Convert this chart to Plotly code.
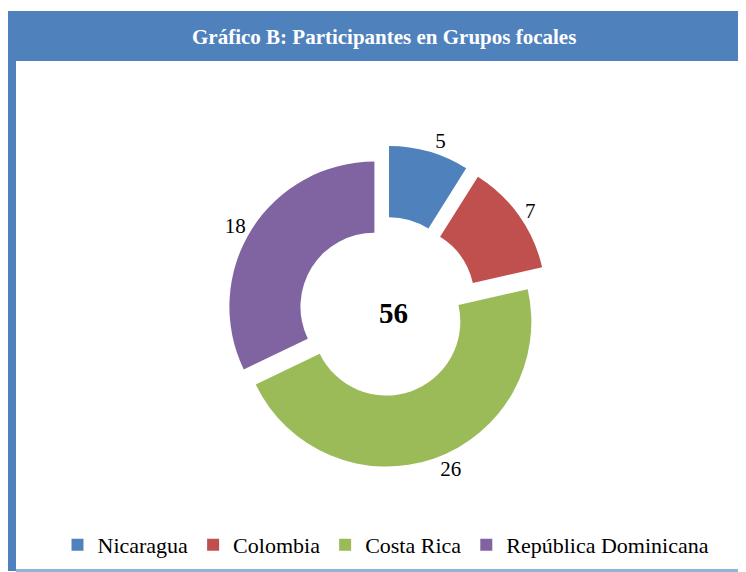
import plotly.graph_objects as go

# Data
countries = ["Nicaragua", "Colombia", "Costa Rica", "República Dominicana"]
participants = [5, 7, 26, 18]
colors = ["#4F81BD", "#C0504D", "#9BBB59", "#8064A2"]
pulls = [0.15, 0.15, 0.07, 0.07]
title_text = "Gráfico B: Participantes en Grupos focales"

# page has an 8px body margin; figure sized to fill the rest of the window
OFF = 8
W, H = 746 - OFF, 572 - OFF
FONT = "Liberation Serif, Times New Roman, serif"


def px(x):  # page x -> paper fraction
    return (x - OFF) / W


def py(y):  # page y -> paper fraction
    return 1 - (y - OFF) / H


# pie geometry (page pixels)
cx, cy, R = 383, 312, 145
half = R * (1 + max(pulls))

fig = go.Figure()
fig.add_trace(go.Pie(
    labels=countries,
    values=participants,
    marker=dict(colors=colors, line=dict(width=0)),
    hole=0.51,
    pull=pulls,
    sort=False,
    direction="clockwise",
    rotation=0,
    textposition="outside",
    texttemplate="%{value}",
    outsidetextfont=dict(family=FONT, size=21, color="#000000"),
    domain=dict(x=[px(cx - half), px(cx + half)],
                y=[py(cy + half), py(cy - half)]),
    showlegend=True,
))

total = sum(participants)

fig.update_layout(
    width=W, height=H,
    margin=dict(l=0, r=0, t=0, b=0),
    paper_bgcolor="white",
    plot_bgcolor="white",
    font=dict(family=FONT, size=22, color="#000000"),
    showlegend=True,
    legend=dict(orientation="h", x=px(386), xanchor="center", y=py(545), yanchor="middle",
                font=dict(family=FONT, size=22, color="#000000"),
                traceorder="normal", bgcolor="rgba(0,0,0,0)"),
    shapes=[
        # title banner
        dict(type="rect", xref="paper", yref="paper",
             x0=px(8), x1=1, y0=py(61), y1=py(11),
             fillcolor="#4F81BD", line=dict(width=0), layer="below"),
        # left bar
        dict(type="rect", xref="paper", yref="paper",
             x0=px(8), x1=px(16), y0=py(571), y1=py(11),
             fillcolor="#4F81BD", line=dict(width=0), layer="below"),
        # bottom line
        dict(type="rect", xref="paper", yref="paper",
             x0=px(16), x1=1, y0=0, y1=py(569),
             fillcolor="#95B3D7", line=dict(width=0), layer="below"),
    ],
    annotations=[
        dict(text="<b>" + title_text + "</b>", xref="paper", yref="paper",
             x=px(384), y=py(37), xanchor="center", yanchor="middle",
             showarrow=False, font=dict(family=FONT, size=21, color="white")),
        dict(text="<b>" + str(total) + "</b>", xref="paper", yref="paper",
             x=px(393), y=py(313), xanchor="center", yanchor="middle",
             showarrow=False, font=dict(family=FONT, size=29, color="#000000")),
    ],
)

fig.write_html("out.html")
